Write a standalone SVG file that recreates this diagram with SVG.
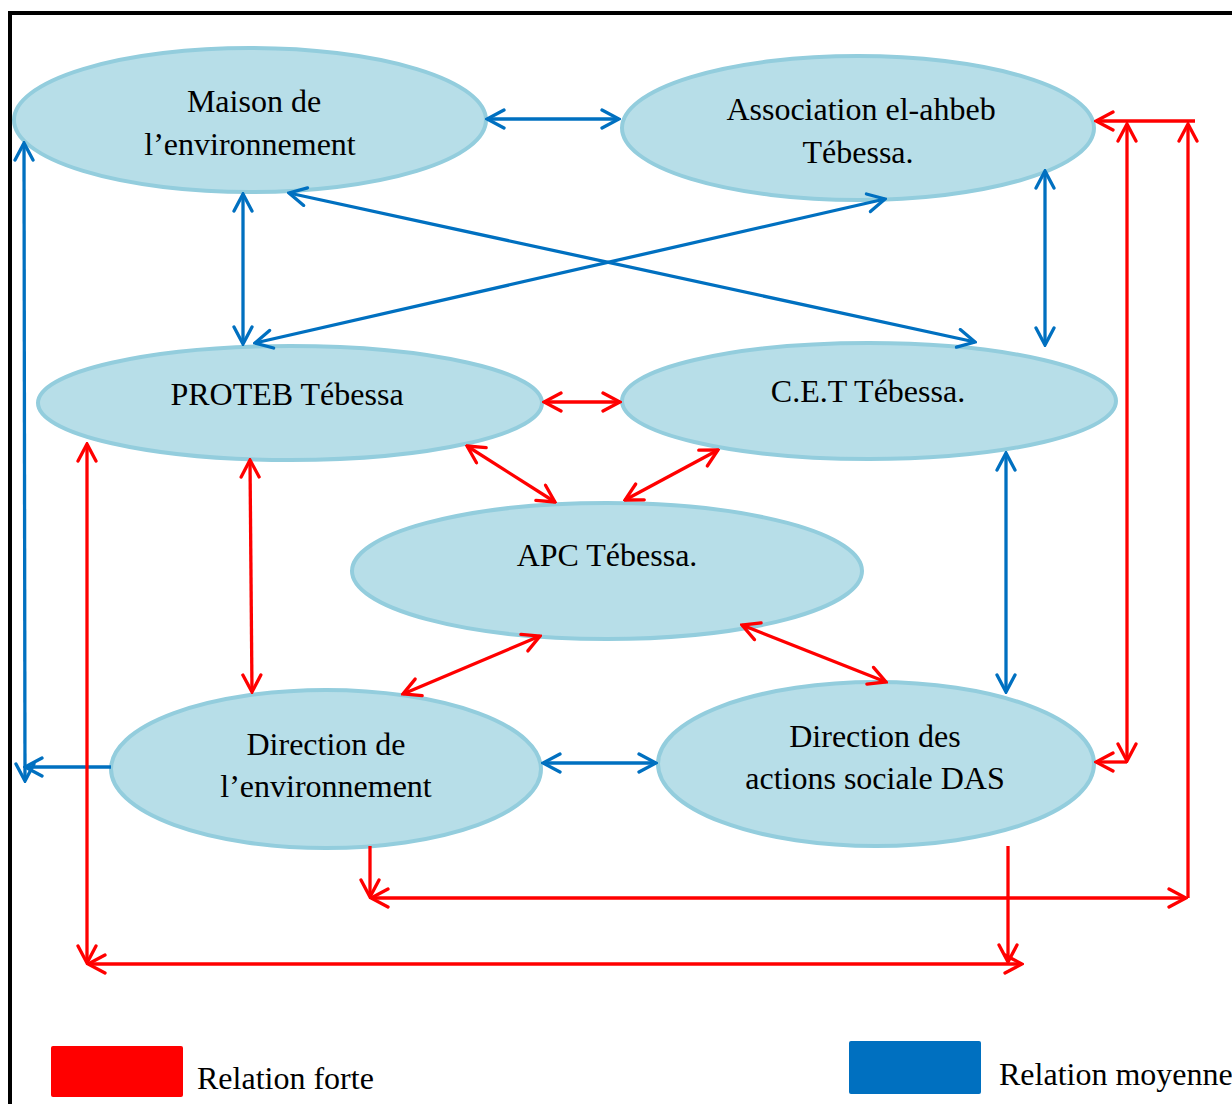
<svg xmlns="http://www.w3.org/2000/svg" width="1232" height="1104" viewBox="0 0 1232 1104">
<style>
.node ellipse{fill:#b7dee8;stroke:#93cddd;stroke-width:4}
.node text,.legend text{font-family:"Liberation Serif","Times New Roman",serif;font-size:32px;fill:#000;text-anchor:middle}
.legend text{text-anchor:start}
.b{stroke:#0070c0;stroke-width:3.3;fill:none}
.r{stroke:#ff0000;stroke-width:3.3;fill:none}
.b2{marker-start:url(#mb);marker-end:url(#mb)}
.be{marker-end:url(#mb)}
.r2{marker-start:url(#mr);marker-end:url(#mr)}
.re{marker-end:url(#mr)}
</style>
<defs>
<marker id="mb" viewBox="-20 -11 22 22" refX="0" refY="0" markerWidth="22" markerHeight="22" markerUnits="userSpaceOnUse" orient="auto-start-reverse">
<path d="M-17,-9 L0,0 L-17,9" fill="none" stroke="#0070c0" stroke-width="3.3" stroke-linecap="round"/>
</marker>
<marker id="mr" viewBox="-20 -11 22 22" refX="0" refY="0" markerWidth="22" markerHeight="22" markerUnits="userSpaceOnUse" orient="auto-start-reverse">
<path d="M-17,-9 L0,0 L-17,9" fill="none" stroke="#ff0000" stroke-width="3.3" stroke-linecap="round"/>
</marker>
</defs>
<rect x="10" y="13" width="1240" height="1120" fill="#fff" stroke="#000" stroke-width="4"/>

<g id="n-maison" class="node">
<ellipse cx="250" cy="120" rx="236" ry="72"/>
<text x="254" y="112">Maison de</text>
<text x="250" y="155">l’environnement</text>
</g>
<g id="n-association" class="node">
<ellipse cx="858" cy="128" rx="236" ry="72"/>
<text x="861" y="120">Association el-ahbeb</text>
<text x="858" y="163">Tébessa.</text>
</g>
<g id="n-proteb" class="node">
<ellipse cx="290" cy="403" rx="252" ry="57"/>
<text x="287" y="405">PROTEB Tébessa</text>
</g>
<g id="n-cet" class="node">
<ellipse cx="869" cy="401" rx="247" ry="58"/>
<text x="868" y="402">C.E.T Tébessa.</text>
</g>
<g id="n-apc" class="node">
<ellipse cx="607" cy="571" rx="255" ry="68"/>
<text x="607" y="566">APC Tébessa.</text>
</g>
<g id="n-direnv" class="node">
<ellipse cx="326" cy="769" rx="215" ry="79"/>
<text x="326" y="755">Direction de</text>
<text x="326" y="797">l’environnement</text>
</g>
<g id="n-das" class="node">
<ellipse cx="876" cy="764" rx="218" ry="82"/>
<text x="875" y="747">Direction des</text>
<text x="875" y="789">actions sociale DAS</text>
</g>

<g id="connectors">
<!-- blue -->
<line class="b b2" x1="487" y1="119" x2="619" y2="119"/>
<line class="b b2" x1="243" y1="194" x2="243" y2="344"/>
<line class="b b2" x1="289" y1="193" x2="975" y2="342"/>
<line class="b b2" x1="255" y1="343" x2="885" y2="199"/>
<line class="b b2" x1="1045" y1="171" x2="1045" y2="345"/>
<line class="b b2" x1="1006" y1="453" x2="1006" y2="692"/>
<line class="b b2" x1="543" y1="763" x2="656" y2="763"/>
<line class="b b2" x1="24" y1="143" x2="25" y2="781"/>
<line class="b be" x1="111" y1="767" x2="25" y2="767"/>
<!-- red -->
<line class="r r2" x1="544" y1="402" x2="620" y2="402"/>
<line class="r r2" x1="467" y1="446" x2="555" y2="502"/>
<line class="r r2" x1="718" y1="450" x2="625" y2="500"/>
<line class="r r2" x1="250" y1="460" x2="252" y2="692"/>
<line class="r r2" x1="540" y1="636" x2="403" y2="694"/>
<line class="r r2" x1="742" y1="625" x2="886" y2="682"/>
<line class="r r2" x1="87" y1="444" x2="87" y2="963"/>
<line class="r r2" x1="88" y1="964" x2="1022" y2="964"/>
<line class="r re" x1="1008" y1="846" x2="1008" y2="962"/>
<line class="r re" x1="370" y1="846" x2="370" y2="897"/>
<line class="r r2" x1="371" y1="898" x2="1186" y2="898"/>
<line class="r re" x1="1188" y1="898" x2="1188" y2="124"/>
<line class="r re" x1="1195" y1="121" x2="1096" y2="121"/>
<line class="r r2" x1="1127" y1="124" x2="1127" y2="761"/>
<line class="r re" x1="1127" y1="762" x2="1096" y2="762"/>
</g>

<g id="legend" class="legend">
<rect x="51" y="1046" width="132" height="51" rx="2" fill="#ff0000"/>
<text x="197" y="1089">Relation forte</text>
<rect x="849" y="1041" width="132" height="53" rx="2" fill="#0070c0"/>
<text x="999" y="1085">Relation moyenne</text>
</g>
</svg>
